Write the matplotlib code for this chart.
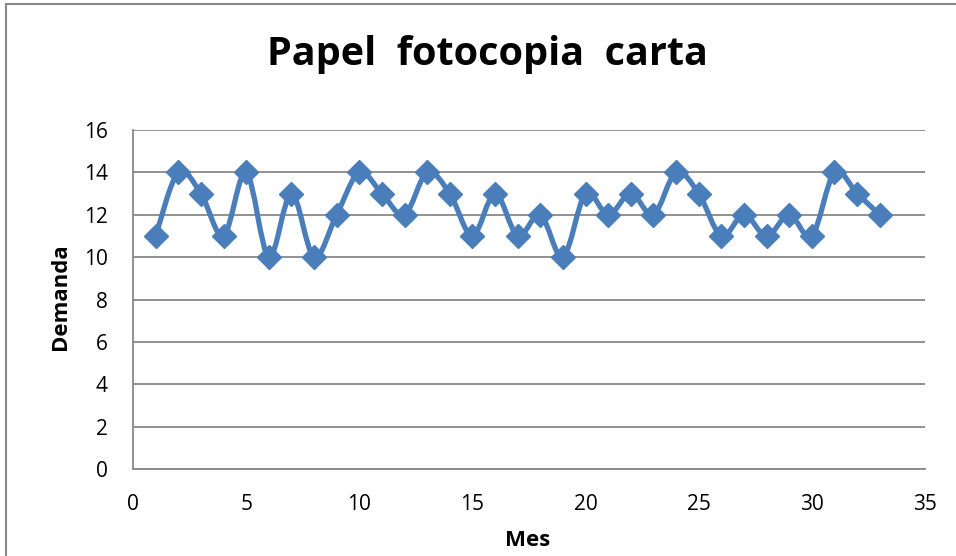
import numpy as np
import matplotlib
matplotlib.use("Agg")
from matplotlib import pyplot as plt
from matplotlib.path import Path
from matplotlib.patches import PathPatch
from matplotlib.lines import Line2D

plt.rcParams['font.family'] = ['Open Sans', 'DejaVu Sans']

mes = list(range(1, 34))
demanda = [11, 14, 13, 11, 14, 10, 13, 10, 12, 14, 13, 12, 14, 13, 11, 13, 11,
           12, 10, 13, 12, 13, 12, 14, 13, 11, 12, 11, 12, 11, 14, 13, 12]

title = "Papel  fotocopia  carta"
blue = "#4A7EBB"
grid_grey = "#888888"

W, H = 956, 556
fig = plt.figure(figsize=(W / 100, H / 100), dpi=100)
ax = fig.add_axes([133 / W, 1 - 469 / H, (925 - 133) / W, (469 - 130) / H])

ax.set_xlim(0, 35)
ax.set_ylim(0, 16)
ax.set_xticks(range(0, 36, 5))
ax.set_yticks(range(0, 17, 2))
ax.yaxis.grid(True, color=grid_grey, linewidth=1.3)
ax.set_axisbelow(True)
for s in ["top", "right"]:
    ax.spines[s].set_visible(False)
for s in ["left", "bottom"]:
    ax.spines[s].set_color(grid_grey)
    ax.spines[s].set_linewidth(1.3)
ax.tick_params(length=0, labelsize=15)
ax.tick_params(axis="y", pad=18)
ax.tick_params(axis="x", pad=18)

# smoothed line (Bezier segments through the data, like the spreadsheet smoothing)
x = np.array(mes, dtype=float)
y = np.array(demanda, dtype=float)
verts = [(x[0], y[0])]
codes = [Path.MOVETO]
n = len(x)
for i in range(n - 1):
    p0 = np.array([x[max(i - 1, 0)], y[max(i - 1, 0)]])
    p1 = np.array([x[i], y[i]])
    p2 = np.array([x[i + 1], y[i + 1]])
    p3 = np.array([x[min(i + 2, n - 1)], y[min(i + 2, n - 1)]])
    c1 = p1 + (p2 - p0) / 6
    c2 = p2 - (p3 - p1) / 6
    verts += [tuple(c1), tuple(c2), tuple(p2)]
    codes += [Path.CURVE4] * 3
ax.add_patch(PathPatch(Path(verts, codes), facecolor="none", edgecolor=blue,
                       linewidth=3.8, capstyle="round", joinstyle="round", zorder=3))
ax.plot(mes, demanda, linestyle="none", marker="D", markersize=12,
        color=blue, zorder=4, clip_on=False)

fig.text(528 / W, 1 - 540 / H, "Mes", fontsize=16, fontweight="bold",
         ha="center", va="center")
fig.text(60 / W, 1 - 297 / H, "Demanda", fontsize=16, fontweight="bold",
         ha="center", va="center", rotation=90)
fig.text(487 / W, 1 - 55 / H, title, fontsize=28.5, fontweight="bold",
         ha="center", va="center")

# chart area border
fig.add_artist(Line2D([6 / W, 1], [1 - 4 / H, 1 - 4 / H], color="#888888",
                      linewidth=1.5, transform=fig.transFigure))
fig.add_artist(Line2D([6 / W, 6 / W], [0, 1 - 4 / H], color="#888888",
                      linewidth=1.5, transform=fig.transFigure))

fig.savefig("out.png", dpi=100)
